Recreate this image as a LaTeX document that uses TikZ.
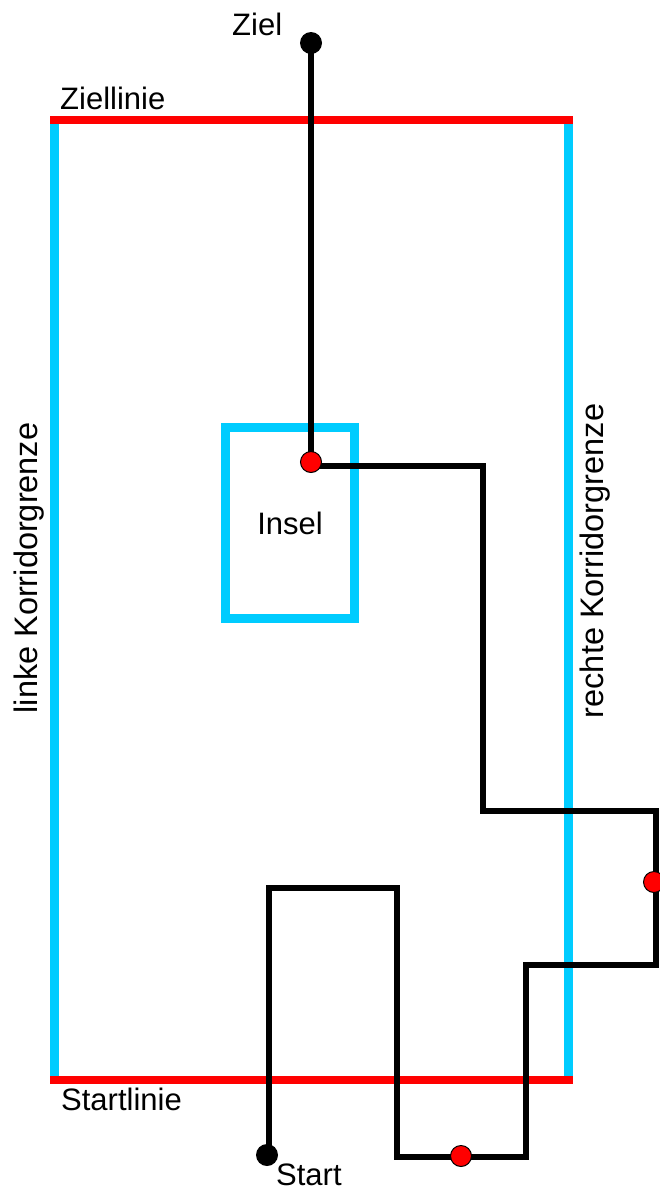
\documentclass[tikz,border=0pt]{standalone}
\usepackage{fontspec}
\setmainfont{Liberation Sans}
\usepackage{tikz}
\definecolor{linered}{HTML}{FF0000}
\definecolor{grenzcyan}{HTML}{00CCFF}
\tikzset{
  label text/.style={font=\fontsize{31}{36}\selectfont, inner sep=0pt},
  side text/.style={font=\fontsize{32.5}{38}\selectfont, inner sep=0pt, anchor=base, rotate=90},
  endpoint/.style={circle, fill=black, inner sep=0pt, minimum size=22pt},
  waypoint/.style={circle, fill=linered, draw=black, line width=1pt, inner sep=0pt, minimum size=21pt},
  pathline/.style={black, line width=6pt},
}

\begin{document}
\begin{tikzpicture}[x=1pt, y=-1pt]
  \useasboundingbox (0,0) rectangle (659,1191);
  % Corridor borders
  \draw[grenzcyan, line width=9pt] (54.5,124) -- (54.5,1076);
  \draw[grenzcyan, line width=9pt] (568.5,124) -- (568.5,1076);
  % Finish and start lines
  \draw[linered, line width=8.5pt] (50,120) -- (573,120);
  \draw[linered, line width=8.5pt] (50,1080) -- (573,1080);
  % Island
  \node[draw=grenzcyan, line width=9pt, rectangle, inner sep=0pt,
        minimum width=129pt, minimum height=191pt, label text] (insel) at (290,523) {Insel};
  % Path corners
  \coordinate (c1) at (316,466);
  \coordinate (c2) at (483,466);
  \coordinate (c3) at (483,811);
  \coordinate (c4) at (656,811);
  \coordinate (c5) at (656,965);
  \coordinate (c6) at (526,965);
  \coordinate (c7) at (526,1157);
  \coordinate (c8) at (397,1157);
  \coordinate (c9) at (397,888);
  \coordinate (c10) at (269,888);
  \coordinate (c11) at (269,1150);
  % Robot path
  \draw[pathline] (311,43) -- (311,462);
  \draw[pathline] (c1) -- (c2) -- (c3) -- (c4) -- (c5) -- (c6) -- (c7) -- (c8) -- (c9) -- (c10) -- (c11);
  % Points on the path
  \node[endpoint] (ziel) at (311,43) {};
  \node[endpoint] (start) at (267,1155) {};
  \node[waypoint] (wp1) at (311,462) {};
  \node[waypoint] (wp2) at (654,882) {};
  \node[waypoint] (wp3) at (461,1156) {};
  % Labels
  \node[label text, anchor=base west] (zieltext) at (232,35) {Ziel};
  \node[label text, anchor=base west] (starttext) at (276,1185) {Start};
  \node[label text, anchor=base west] (ziellinie) at (60,109) {Ziellinie};
  \node[label text, anchor=base west] (startlinie) at (61,1110) {Startlinie};
  \node[side text] (linke) at (37,568) {linke Korridorgrenze};
  \node[side text] (rechte) at (603,561) {rechte Korridorgrenze};
\end{tikzpicture}
\end{document}
